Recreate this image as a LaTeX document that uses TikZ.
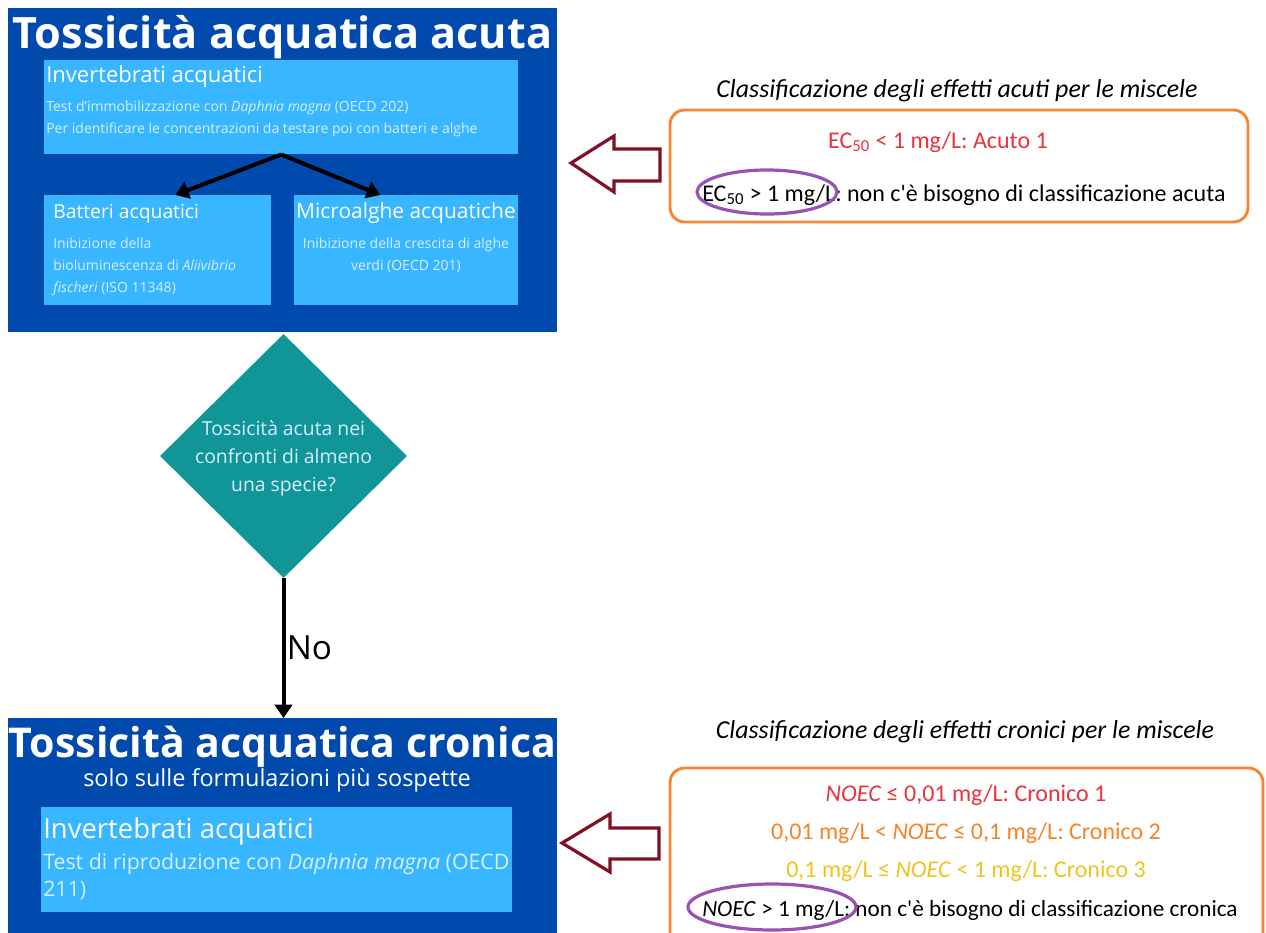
\documentclass[tikz,border=0pt]{standalone}
\usepackage{fontspec}
\setmainfont{Open Sans}
\newfontfamily\calfont{Carlito}
\usetikzlibrary{arrows.meta,shapes.geometric,calc}

\definecolor{darkblue}{RGB}{0,74,173}
\definecolor{skyblue}{RGB}{56,182,255}
\definecolor{tealgreen}{RGB}{16,150,152}
\definecolor{paletext}{RGB}{214,240,255}
\definecolor{orangeline}{RGB}{247,134,52}
\definecolor{redtxt}{RGB}{232,52,60}
\definecolor{orangetxt}{RGB}{245,132,40}
\definecolor{yellowtxt}{RGB}{240,196,30}
\definecolor{ringpurple}{RGB}{155,80,180}
\definecolor{maroon}{RGB}{128,16,36}

\tikzset{
  outerbox/.style={fill=darkblue, draw=none, inner sep=0pt, anchor=north west},
  innerbox/.style={fill=skyblue, draw=none, inner sep=0pt, anchor=north west},
  bigtitle/.style={text=white, font=\bfseries\fontsize{32.4}{36}\selectfont, anchor=base, inner sep=0pt},
  boxtitle/.style={text=white, anchor=base west, inner sep=0pt},
  bodytext/.style={text=paletext, font=\fontsize{10.5}{16}\selectfont, anchor=base west, inner sep=0pt},
  flowarrow/.style={line width=3pt, -{Triangle[length=10pt,width=13pt]}},
  caption/.style={font=\calfont\itshape\fontsize{19.4}{22}\selectfont, anchor=base, inner sep=0pt},
  classline/.style={font=\calfont\fontsize{18}{22}\selectfont, anchor=base, inner sep=0pt},
  classframe/.style={draw=orangeline, line width=2.2pt, rounded corners=11pt},
  ring/.style={draw=ringpurple, line width=2.4pt},
  hollowarrow/.style={draw=maroon, line width=2.4pt, line join=miter, fill=white}
}

\begin{document}
\begin{tikzpicture}[x=0.75pt,y=-0.75pt]
\useasboundingbox (0,0) rectangle (1266,932);
\fill[white] (0,0) rectangle (1266,932);

% ---------- acute toxicity block ----------
\node[outerbox, minimum width=411.75pt, minimum height=243pt] (acute) at (8,8) {};
\node[bigtitle] (acutetitle) at (282.5,48) {Tossicità acquatica acuta};

\node[innerbox, minimum width=355.5pt, minimum height=70.5pt] (inv) at (44,60) {};
\node[boxtitle, font=\fontsize{16.5}{20}\selectfont] (invtitle) at (46,82) {Invertebrati acquatici};
\node[bodytext] (invl1) at (46,111) {Test d'immobilizzazione con \textit{Daphnia magna} (OECD 202)};
\node[bodytext] (invl2) at (46,133) {Per identificare le concentrazioni da testare poi con batteri e alghe};

\node[innerbox, minimum width=170.25pt, minimum height=82.5pt] (bat) at (44,195) {};
\node[boxtitle, font=\fontsize{14.5}{18}\selectfont] (battitle) at (53,218) {Batteri acquatici};
\node[bodytext] (batl1) at (53,248) {Inibizione della};
\node[bodytext] (batl2) at (53,270) {bioluminescenza di \textit{Aliivibrio}};
\node[bodytext] (batl3) at (53,292) {\textit{fischeri} (ISO 11348)};

\node[innerbox, minimum width=168pt, minimum height=82.5pt] (alg) at (294,195) {};
\node[boxtitle, font=\fontsize{15.7}{18}\selectfont, anchor=base] (algtitle) at (406,218) {Microalghe acquatiche};
\node[bodytext, anchor=base] (algl1) at (406,248) {Inibizione della crescita di alghe};
\node[bodytext, anchor=base] (algl2) at (406,270) {verdi (OECD 201)};

\draw[flowarrow] (inv.south) -- ($(bat.north west)!0.577!(bat.north east)$);
\draw[flowarrow] (inv.south) -- ($(alg.north west)!0.384!(alg.north east)$);

% ---------- decision ----------
\node[diamond, fill=tealgreen, draw=none, inner sep=0pt, minimum width=185.25pt, minimum height=183pt] (dec) at (283.5,456) {};
\node[text=paletext, font=\fontsize{14.5}{21}\selectfont, align=center, inner sep=0pt] (dectext) at (283.5,458)
  {Tossicità acuta nei\\confronti di almeno\\una specie?};

% ---------- chronic toxicity block ----------
\node[outerbox, minimum width=411.75pt, minimum height=171pt] (chron) at (8,718) {};
\node[bigtitle, font=\bfseries\fontsize{30.8}{36}\selectfont] (chrontitle) at (282.5,757) {Tossicità acquatica cronica};
\node[text=white, font=\fontsize{17.6}{20}\selectfont, anchor=base, inner sep=0pt] (chronsub) at (277,786)
  {solo sulle formulazioni più sospette};

\node[innerbox, minimum width=353.25pt, minimum height=78.75pt] (inv2) at (41,807) {};
\node[boxtitle, font=\fontsize{20.6}{24}\selectfont] (inv2title) at (43,838) {Invertebrati acquatici};
\node[bodytext, font=\fontsize{16}{20}\selectfont] (inv2l1) at (43,869) {Test di riproduzione con \textit{Daphnia magna} (OECD};
\node[bodytext, font=\fontsize{16}{20}\selectfont] (inv2l2) at (43,896) {211)};

\draw[flowarrow] (dec.south) -- (dec.south |- chron.north)
  node[midway, right=1pt, font=\fontsize{25}{30}\selectfont, text=black, inner sep=0pt] (no) {No};

% ---------- acute classification ----------
\node[caption] (capacute) at (957,97) {Classificazione degli effetti acuti per le miscele};
\draw[classframe] (670,110) rectangle (1248,222);
\node[classline, text=redtxt] (ac1) at (938,148) {EC\textsubscript{50} < 1 mg/L: Acuto 1};
\node[classline, anchor=base west] (ac2) at (702,201) {EC\textsubscript{50} > 1 mg/L: non c'è bisogno di classificazione acuta};
\draw[ring] (767,192) ellipse [x radius=70, y radius=22];
\draw[hollowarrow] (571,163) -- (614,136) -- (614,149) -- (660,149) -- (660,181) -- (614,181) -- (614,192) -- cycle;

% ---------- chronic classification ----------
\node[caption] (capchron) at (965,738) {Classificazione degli effetti cronici per le miscele};
\draw[classframe] (670,768) rectangle (1263,960);
\node[classline, text=redtxt] (cr1) at (966,801) {\textit{NOEC} ≤ 0,01 mg/L: Cronico 1};
\node[classline, text=orangetxt] (cr2) at (966,839) {0,01 mg/L < \textit{NOEC} ≤ 0,1 mg/L: Cronico 2};
\node[classline, text=yellowtxt] (cr3) at (966,877) {0,1 mg/L ≤ \textit{NOEC} < 1 mg/L: Cronico 3};
\node[classline, anchor=base west, font=\calfont\fontsize{17.4}{22}\selectfont] (cr4) at (702,916) {\textit{NOEC} > 1 mg/L: non c'è bisogno di classificazione cronica};
\draw[ring] (772,907) ellipse [x radius=84, y radius=23];
\draw[hollowarrow] (562,843) -- (610,814) -- (610,828) -- (659,828) -- (659,859) -- (610,859) -- (610,872) -- cycle;
\end{tikzpicture}
\end{document}
